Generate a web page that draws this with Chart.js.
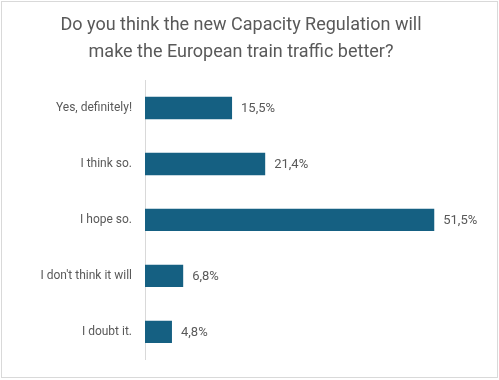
<!DOCTYPE html>
<html>
<head>
<meta charset="utf-8">
<script src="https://cdn.jsdelivr.net/npm/chart.js@4"></script>
<style>
  html, body { margin: 0; padding: 0; background: #ffffff; }
  #wrap { position: relative; width: 499px; height: 380px; }
  #frame { position: absolute; left: 1px; top: 1px; width: 497px; height: 377px; box-sizing: border-box; border: 1px solid #d9d9d9; pointer-events: none; }
  canvas { position: absolute; left: 0; top: 0; }
</style>
</head>
<body>
<div id="wrap">
  <canvas id="c" width="499" height="380"></canvas>
  <div id="frame"></div>
</div>
<script>
const titleLines = ["Do you think the new Capacity Regulation will", "make the European train traffic better?"];
const categories = ["Yes, definitely!", "I think so.", "I hope so.", "I don't think it will", "I doubt it."];
const values = [15.5, 21.4, 51.5, 6.8, 4.8];
const valueLabels = ["15,5%", "21,4%", "51,5%", "6,8%", "4,8%"];

const FONT = "Roboto";
const TEXT = "#595959";

const dataLabelPlugin = {
  id: 'dataLabels',
  afterDatasetsDraw(chart) {
    const ctx = chart.ctx;
    const meta = chart.getDatasetMeta(0);
    const xs = chart.scales.x;
    ctx.save();
    ctx.font = "13px " + FONT;
    ctx.fillStyle = TEXT;
    ctx.textAlign = "left";
    ctx.textBaseline = "middle";
    meta.data.forEach((bar, i) => {
      const x = xs.getPixelForValue(values[i]);
      ctx.fillText(valueLabels[i], x + 9, bar.y + 1);
    });
    ctx.restore();
  }
};

new Chart(document.getElementById('c'), {
  type: 'bar',
  data: {
    labels: categories,
    datasets: [{
      data: values,
      backgroundColor: '#156082',
      borderWidth: 0,
      categoryPercentage: 1.0,
      barPercentage: 0.4
    }]
  },
  options: {
    indexAxis: 'y',
    responsive: false,
    animation: false,
    layout: { padding: { left: 0, right: 17, top: 0, bottom: 17 } },
    plugins: {
      legend: { display: false },
      tooltip: { enabled: false },
      title: {
        display: true,
        text: titleLines,
        color: TEXT,
        font: { family: FONT, size: 18, weight: 'normal', lineHeight: 1.5 },
        padding: { top: 12, bottom: 14 }
      }
    },
    scales: {
      x: {
        display: false,
        min: 0,
        max: 60
      },
      y: {
        afterFit(scale) { scale.width = 145; },
        grid: { display: false, drawTicks: false },
        border: { display: true, color: '#d9d9d9', width: 1 },
        ticks: { color: TEXT, font: { family: FONT, size: 12 }, padding: 13 }
      }
    }
  },
  plugins: [dataLabelPlugin]
});
</script>
</body>
</html>
